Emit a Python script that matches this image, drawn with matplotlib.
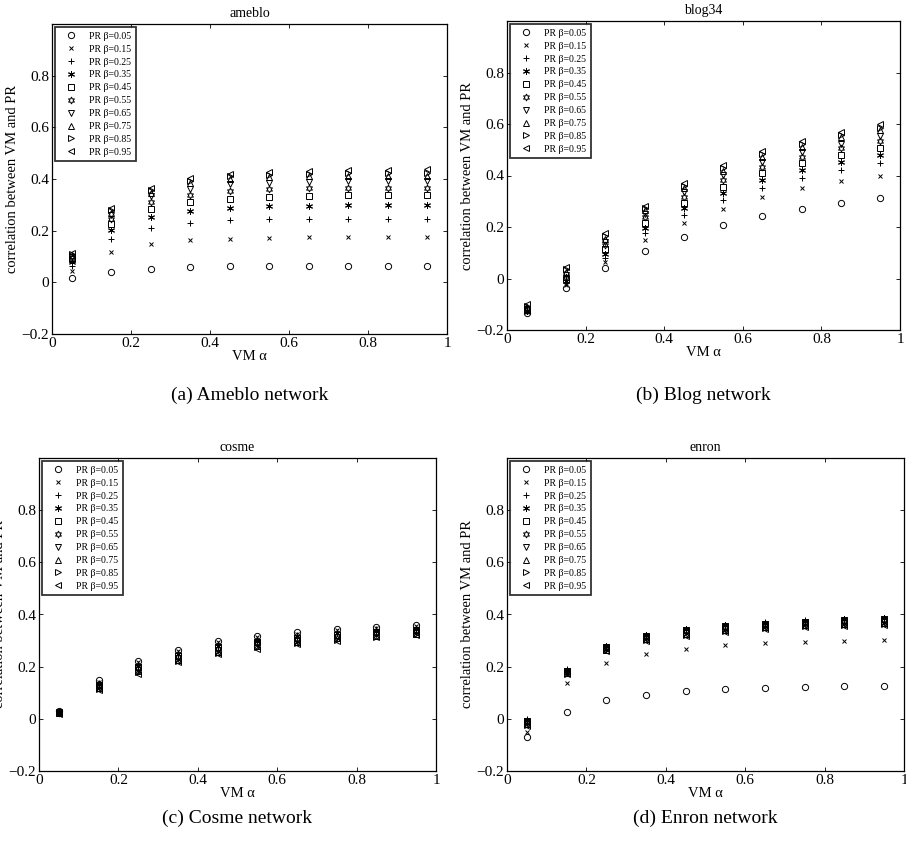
import matplotlib
matplotlib.use("Agg")
import matplotlib.pyplot as plt
from matplotlib.ticker import FuncFormatter

plt.rcParams['font.family'] = ['Liberation Serif', 'DejaVu Serif']
plt.rcParams['mathtext.fontset'] = 'stix'

alphas = [0.05, 0.15, 0.25, 0.35, 0.45, 0.55, 0.65, 0.75, 0.85, 0.95]
betas = [0.05, 0.15, 0.25, 0.35, 0.45, 0.55, 0.65, 0.75, 0.85, 0.95]

# rows: one per beta, values along alpha
ameblo = [
    [0.015, 0.041, 0.053, 0.059, 0.062, 0.063, 0.064, 0.064, 0.064, 0.064],
    [0.045, 0.117, 0.149, 0.162, 0.169, 0.173, 0.174, 0.175, 0.175, 0.175],
    [0.065, 0.166, 0.210, 0.231, 0.240, 0.244, 0.246, 0.247, 0.247, 0.247],
    [0.080, 0.201, 0.254, 0.278, 0.289, 0.295, 0.297, 0.298, 0.298, 0.298],
    [0.090, 0.224, 0.285, 0.312, 0.323, 0.331, 0.335, 0.337, 0.337, 0.337],
    [0.095, 0.245, 0.310, 0.340, 0.353, 0.360, 0.365, 0.367, 0.367, 0.367],
    [0.100, 0.260, 0.334, 0.362, 0.379, 0.385, 0.390, 0.392, 0.392, 0.392],
    [0.105, 0.270, 0.347, 0.385, 0.400, 0.407, 0.410, 0.413, 0.413, 0.413],
    [0.108, 0.280, 0.356, 0.394, 0.410, 0.415, 0.420, 0.422, 0.422, 0.422],
    [0.112, 0.288, 0.366, 0.402, 0.420, 0.427, 0.432, 0.435, 0.436, 0.437],
]

blog34 = [
    [-0.135, -0.036, 0.041, 0.107, 0.162, 0.207, 0.242, 0.269, 0.294, 0.311],
    [-0.130, -0.025, 0.065, 0.149, 0.216, 0.270, 0.315, 0.350, 0.378, 0.400],
    [-0.128, -0.018, 0.080, 0.175, 0.246, 0.304, 0.353, 0.391, 0.421, 0.447],
    [-0.125, -0.010, 0.097, 0.197, 0.272, 0.333, 0.382, 0.421, 0.453, 0.480],
    [-0.122, -0.003, 0.113, 0.216, 0.294, 0.356, 0.408, 0.447, 0.479, 0.507],
    [-0.120, 0.005, 0.130, 0.237, 0.317, 0.382, 0.434, 0.472, 0.505, 0.533],
    [-0.117, 0.015, 0.142, 0.252, 0.337, 0.401, 0.453, 0.492, 0.524, 0.553],
    [-0.112, 0.025, 0.155, 0.265, 0.350, 0.418, 0.472, 0.511, 0.548, 0.576],
    [-0.106, 0.035, 0.165, 0.274, 0.359, 0.430, 0.483, 0.522, 0.557, 0.586],
    [-0.100, 0.046, 0.175, 0.281, 0.369, 0.440, 0.496, 0.533, 0.570, 0.600],
]

cosme = [
    [0.030, 0.147, 0.222, 0.265, 0.299, 0.318, 0.333, 0.345, 0.353, 0.359],
    [0.028, 0.142, 0.216, 0.259, 0.293, 0.312, 0.327, 0.339, 0.348, 0.354],
    [0.027, 0.138, 0.210, 0.253, 0.287, 0.306, 0.322, 0.334, 0.343, 0.349],
    [0.026, 0.134, 0.204, 0.247, 0.281, 0.300, 0.316, 0.328, 0.338, 0.344],
    [0.025, 0.130, 0.198, 0.242, 0.275, 0.295, 0.311, 0.323, 0.333, 0.339],
    [0.024, 0.126, 0.193, 0.237, 0.269, 0.290, 0.305, 0.318, 0.328, 0.335],
    [0.023, 0.122, 0.188, 0.232, 0.263, 0.285, 0.300, 0.313, 0.324, 0.331],
    [0.022, 0.119, 0.183, 0.227, 0.258, 0.280, 0.295, 0.308, 0.319, 0.327],
    [0.021, 0.115, 0.178, 0.222, 0.252, 0.274, 0.290, 0.303, 0.315, 0.324],
    [0.020, 0.112, 0.173, 0.218, 0.247, 0.269, 0.286, 0.299, 0.312, 0.321],
]

enron = [
    [-0.070, 0.027, 0.071, 0.092, 0.105, 0.113, 0.118, 0.122, 0.126, 0.127],
    [-0.050, 0.136, 0.213, 0.250, 0.269, 0.282, 0.290, 0.295, 0.299, 0.301],
    [-0.002, 0.190, 0.280, 0.322, 0.345, 0.360, 0.370, 0.378, 0.383, 0.387],
    [-0.004, 0.188, 0.278, 0.320, 0.343, 0.358, 0.368, 0.376, 0.381, 0.385],
    [-0.008, 0.185, 0.275, 0.316, 0.339, 0.354, 0.364, 0.372, 0.377, 0.381],
    [-0.012, 0.182, 0.271, 0.312, 0.335, 0.350, 0.360, 0.367, 0.372, 0.377],
    [-0.016, 0.179, 0.268, 0.309, 0.331, 0.346, 0.356, 0.363, 0.368, 0.373],
    [-0.020, 0.176, 0.265, 0.306, 0.327, 0.342, 0.352, 0.359, 0.364, 0.368],
    [-0.024, 0.173, 0.262, 0.303, 0.323, 0.338, 0.348, 0.355, 0.360, 0.364],
    [-0.028, 0.170, 0.259, 0.300, 0.319, 0.334, 0.344, 0.351, 0.356, 0.360],
]

titles = ['ameblo', 'blog34', 'cosme', 'enron']
captions = ['(a) Ameblo network', '(b) Blog network', '(c) Cosme network', '(d) Enron network']
datasets = [ameblo, blog34, cosme, enron]

markers = ['o', 'x', '+', (6, 2, 0), 's', (6, 1, 0), 'v', '^', '>', '<']
msizes = [4.5, 3.5, 5, 5, 4, 5, 4.5, 4.5, 4.5, 4.5]

W, H = 906, 844
fig = plt.figure(figsize=(W / 100, H / 100), dpi=100)

# axes boxes in pixels: left, top, right, bottom
boxes = [(52, 24, 447, 334), (507, 21, 900, 330),
         (39, 458, 436, 771), (507, 458, 904, 771)]
caption_y = [395, 395, 818, 818]

fmt = FuncFormatter(lambda v, p: ('%g' % round(v, 2)).replace('-', '\u2212'))

for i in range(4):
    l, t, r, b = boxes[i]
    ax = fig.add_axes([l / W, 1 - b / H, (r - l) / W, (b - t) / H])
    for j in range(len(betas)):
        ax.plot(alphas, datasets[i][j], linestyle='none', marker=markers[j],
                markersize=msizes[j], markerfacecolor='none', markeredgecolor='black',
                markeredgewidth=0.7, color='black', label='PR \u03b2=%.2f' % betas[j])
    ax.set_xlim(0, 1)
    ax.set_ylim(-0.2, 1.0)
    ax.set_xticks([0, 0.2, 0.4, 0.6, 0.8, 1])
    ax.set_yticks([-0.2, 0, 0.2, 0.4, 0.6, 0.8])
    ax.xaxis.set_major_formatter(fmt)
    ax.yaxis.set_major_formatter(fmt)
    ax.tick_params(direction='in', top=True, right=True, length=3, width=0.6,
                   labelsize=11, pad=2)
    for s in ax.spines.values():
        s.set_linewidth(0.9)
    ax.set_title(titles[i], fontsize=10, pad=5)
    ax.set_xlabel('VM \u03b1', fontsize=10.5, labelpad=0)
    ax.set_ylabel('correlation between VM and PR', fontsize=10.5, labelpad=2)
    leg = ax.legend(loc='upper left', fontsize=7, frameon=True, fancybox=False,
                    borderpad=0.45, labelspacing=0.4, handlelength=2.4,
                    handletextpad=0.6, borderaxespad=0.35)
    leg.get_frame().set_edgecolor('black')
    leg.get_frame().set_linewidth(1.3)
    fig.text((l + r) / 2 / W, 1 - caption_y[i] / H, captions[i], ha='center',
             va='center', fontsize=14)

fig.savefig('out.png', dpi=100)
